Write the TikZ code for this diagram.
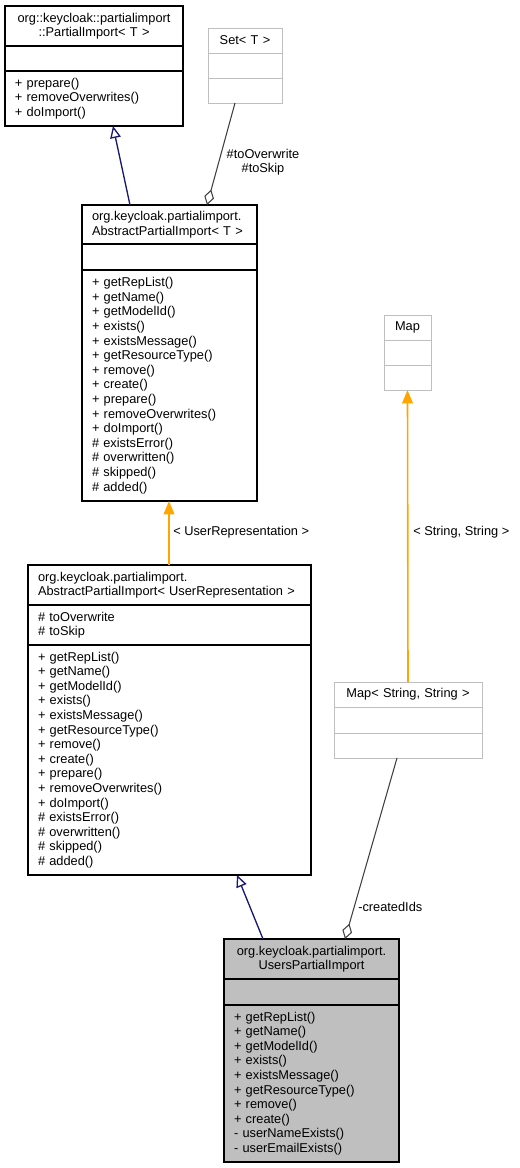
\documentclass[tikz,border=0pt]{standalone}
\usepackage{fontspec}
\setsansfont{Liberation Sans}
\usepackage{tikz}
\usetikzlibrary{positioning,calc,arrows.meta}
\definecolor{clsblue}{HTML}{191970}
\definecolor{clsorange}{HTML}{FFA500}
\definecolor{clsline}{HTML}{404040}
\definecolor{clsborder}{HTML}{BFBFBF}
\definecolor{clsfill}{HTML}{BFBFBF}
\newcommand{\pxw}{0.75pt}
\tikzset{
  clsfont/.style={font=\fontsize{9.6}{10.95}\selectfont\sffamily},
  clsbox/.style={draw, line width=1pt, inner xsep=10*\pxw, inner ysep=0pt, outer sep=0pt, align=left},
  clsboxgray/.style={clsbox, fill=clsfill},
  clsboxlight/.style={clsbox, draw=clsborder, line width=0.75pt, align=center},
  clsinherit/.style={draw=clsblue, line width=1pt, -{Triangle[open, length=9pt, width=8pt]}},
  clsinst/.style={draw=clsorange, line width=1.2pt, -{Triangle[length=10pt, width=8pt]}},
  clsaggr/.style={draw=clsline, line width=0.8pt, -{Diamond[open, length=12pt, width=7.5pt]}},
}
\begin{document}
\begin{tikzpicture}[x=0.75pt, y=-0.75pt, clsfont]
\useasboundingbox (0,0) rectangle (519,1168);
% PartialImport< T >
\node[clsbox, align=center, anchor=north west, text width=158*\pxw, minimum height=40*\pxw] (PIt) at (5,6)
{org::keycloak::partialimport\\::PartialImport< T >};
\node[clsbox, below=0pt of PIt, text width=158*\pxw, minimum height=25*\pxw] (PIa) {};
\node[clsbox, below=0pt of PIa, text width=158*\pxw, minimum height=55*\pxw] (PIm)
{+ prepare()\\+ removeOverwrites()\\+ doImport()};

% Set< T >
\node[clsboxlight, anchor=north west, text width=54*\pxw, minimum height=25*\pxw] (SETt) at (208,28) {Set< T >};
\node[clsboxlight, below=0pt of SETt, text width=54*\pxw, minimum height=25*\pxw] (SETa) {};
\node[clsboxlight, below=0pt of SETa, text width=54*\pxw, minimum height=25*\pxw] (SETm) {};

% AbstractPartialImport< T >
\node[clsbox, anchor=north west, text width=155*\pxw, minimum height=39*\pxw] (APIt) at (82,205)
{org.keycloak.partialimport.\\AbstractPartialImport< T >};
\node[clsbox, below=0pt of APIt, text width=155*\pxw, minimum height=26*\pxw] (APIa) {};
\node[clsbox, below=0pt of APIa, text width=155*\pxw, minimum height=231*\pxw] (APIm)
{+ getRepList()\\+ getName()\\+ getModelId()\\+ exists()\\+ existsMessage()\\+ getResourceType()\\+ remove()\\+ create()\\+ prepare()\\+ removeOverwrites()\\+ doImport()\\\# existsError()\\\# overwritten()\\\# skipped()\\\# added()};

% Map
\node[clsboxlight, anchor=north west, text width=27*\pxw, minimum height=25*\pxw] (MAPt) at (384,315) {Map};
\node[clsboxlight, below=0pt of MAPt, text width=27*\pxw, minimum height=25*\pxw] (MAPa) {};
\node[clsboxlight, below=0pt of MAPa, text width=27*\pxw, minimum height=25*\pxw] (MAPm) {};

% AbstractPartialImport< UserRepresentation >
\node[clsbox, anchor=north west, text width=263*\pxw, minimum height=40*\pxw] (APIUt) at (28,565)
{org.keycloak.partialimport.\\AbstractPartialImport< UserRepresentation >};
\node[clsbox, below=0pt of APIUt, text width=263*\pxw, minimum height=40*\pxw] (APIUa)
{\# toOverwrite\\\# toSkip};
\node[clsbox, below=0pt of APIUa, text width=263*\pxw, minimum height=230*\pxw] (APIUm)
{+ getRepList()\\+ getName()\\+ getModelId()\\+ exists()\\+ existsMessage()\\+ getResourceType()\\+ remove()\\+ create()\\+ prepare()\\+ removeOverwrites()\\+ doImport()\\\# existsError()\\\# overwritten()\\\# skipped()\\\# added()};

% Map< String, String >
\node[clsboxlight, anchor=north west, text width=128*\pxw, minimum height=25*\pxw] (MSSt) at (334,682) {Map< String, String >};
\node[clsboxlight, below=0pt of MSSt, text width=128*\pxw, minimum height=26*\pxw] (MSSa) {};
\node[clsboxlight, below=0pt of MSSa, text width=128*\pxw, minimum height=25*\pxw] (MSSm) {};

% UsersPartialImport
\node[clsboxgray, align=center, anchor=north west, text width=155*\pxw, minimum height=40*\pxw] (UPIt) at (224,939)
{org.keycloak.partialimport.\\UsersPartialImport};
\node[clsboxgray, below=0pt of UPIt, text width=155*\pxw, minimum height=26*\pxw] (UPIa) {};
\node[clsboxgray, below=0pt of UPIa, text width=155*\pxw, minimum height=157*\pxw] (UPIm)
{+ getRepList()\\+ getName()\\+ getModelId()\\+ exists()\\+ existsMessage()\\+ getResourceType()\\+ remove()\\+ create()\\- userNameExists()\\- userEmailExists()};

% connectors
\draw[clsinherit] ($(APIt.north)+(-39.5,0)$) -- ($(PIm.south)+(19,0)$);
\draw[clsaggr] ($(SETm.south)+(-10,0)$) -- ($(APIt.north)+(37.5,0)$);
\draw[clsinst] ($(APIUt.north)+(-0.5,0)$) -- ($(APIm.south)+(-0.5,0)$);
\draw[clsinst] (MSSt.north) -- (MAPm.south);
\draw[clsinherit] ($(UPIt.north)+(-48.5,0)$) -- ($(APIUm.south)+(67.5,0)$);
\draw[clsaggr] ($(MSSm.south)+(-11,0)$) -- ($(UPIt.north)+(33.5,0)$);

% labels
\node[align=center, inner sep=0pt] (lblSet) at (263,162) {\#toOverwrite\\\#toSkip};
\node[anchor=west, inner sep=0pt] (lblUser) at (173,532) {< UserRepresentation >};
\node[anchor=west, inner sep=0pt] (lblStr) at (413,532) {< String, String >};
\node[anchor=west, inner sep=0pt] (lblIds) at (358,907) {-createdIds};
\end{tikzpicture}
\end{document}
